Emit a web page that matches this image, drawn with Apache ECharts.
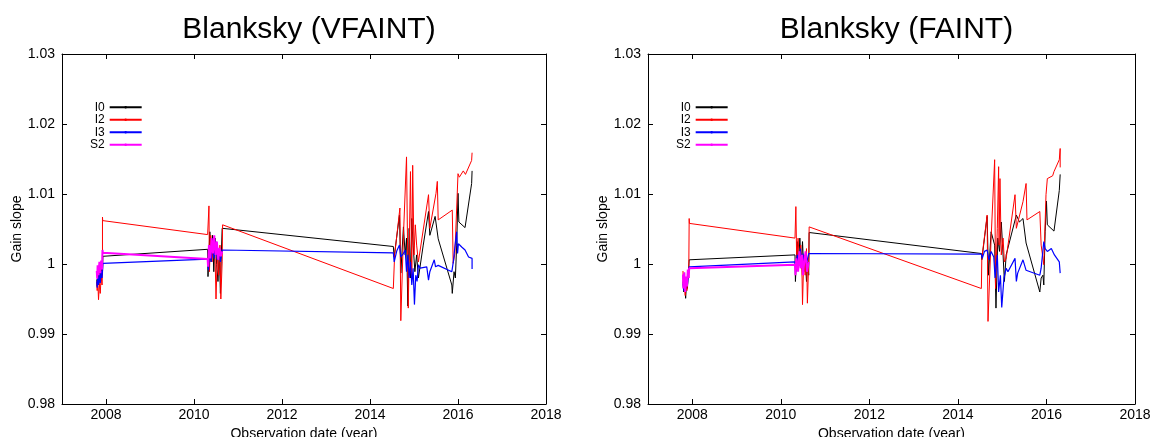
<!DOCTYPE html>
<html>
<head>
<meta charset="utf-8">
<script src="https://cdn.jsdelivr.net/npm/echarts@6/dist/echarts.min.js"></script>
<style>
  html, body { margin: 0; padding: 0; background: #fff; }
  #chart { width: 1155px; height: 437px; }
</style>
</head>
<body>
<div id="chart"></div>
<script>
// Gain slope per chip vs observation date, [year, slope]
const chipNames = ['I0', 'I2', 'I3', 'S2'];
const panelTitles = ['Blanksky (VFAINT)', 'Blanksky (FAINT)'];
const yearTicks = [2008, 2010, 2012, 2014, 2016, 2018];
const slopeTicks = [0.98, 0.99, 1.00, 1.01, 1.02, 1.03];

const vfaintI0 = [
  [2007.79,0.9978],[2007.80,0.9968],[2007.82,0.9985],[2007.84,0.9972],[2007.86,0.9990],[2007.88,0.9976],[2007.90,0.9995],[2007.92,0.9984],[2007.93,1.0011],
  [2010.31,1.0021],[2010.318,0.9982],[2010.36,1.0046],[2010.39,1.0003],[2010.42,1.0041],[2010.45,0.9989],[2010.48,1.0037],[2010.515,0.9999],[2010.545,0.9975],[2010.575,1.0018],[2010.60,0.9958],[2010.62,1.0013],[2010.64,1.0051],
  [2014.53,1.0025],[2014.55,1.0010],[2014.67,1.0070],[2014.70,0.9987],[2014.76,1.0053],[2014.80,1.0013],[2014.83,1.0037],[2014.86,0.9940],[2014.89,1.0051],[2014.92,0.9980],[2014.95,1.0065],[2014.98,1.0027],[2015.02,0.9989],[2015.06,1.0013],[2015.10,0.9980],[2015.21,1.0027],[2015.33,1.0075],[2015.36,1.0041],[2015.48,1.0068],[2015.55,1.0036],[2015.86,0.9970],[2015.87,0.9958],[2015.91,0.9989],[2015.94,0.9980],[2015.97,1.0027],[2016.00,1.0101],[2016.02,1.0060],[2016.16,1.0052],[2016.31,1.0115],[2016.32,1.0133]
];
const vfaintI2 = [
  [2007.79,0.9975],[2007.80,0.9962],[2007.81,0.9980],[2007.83,0.9949],[2007.85,0.9972],[2007.87,0.9958],[2007.89,0.9984],[2007.91,0.9970],[2007.92,0.9990],[2007.92,1.0067],[2007.925,1.0062],
  [2010.31,1.0042],[2010.34,1.0083],[2010.35,0.9989],[2010.38,1.0041],[2010.41,1.0003],[2010.44,1.0032],[2010.48,1.0008],[2010.50,0.9950],[2010.53,1.0013],[2010.56,0.9984],[2010.59,1.0027],[2010.61,0.9950],[2010.64,1.0003],[2010.65,1.0056],
  [2014.53,0.9965],[2014.56,1.0013],[2014.68,1.0080],[2014.70,0.9919],[2014.76,1.0041],[2014.83,1.0153],[2014.87,0.9937],[2014.92,1.0132],[2014.95,0.9980],[2014.97,1.0141],[2015.00,1.0013],[2015.03,1.0056],[2015.06,1.0027],[2015.10,1.0003],[2015.33,1.0099],[2015.36,1.0051],[2015.50,1.0101],[2015.53,1.0118],[2015.55,1.0063],[2015.87,1.0077],[2015.89,1.0001],[2015.93,1.0015],[2016.00,1.0129],[2016.03,1.0124],[2016.12,1.0133],[2016.17,1.0128],[2016.31,1.0148],[2016.32,1.0159]
];
const vfaintI3 = [
  [2007.79,0.9975],[2007.80,0.9966],[2007.81,0.9982],[2007.83,0.9970],[2007.85,0.9986],[2007.87,0.9973],[2007.89,0.9990],[2007.91,0.9980],[2007.93,1.0001],
  [2010.31,1.0007],[2010.33,0.9991],[2010.36,1.0022],[2010.39,1.0003],[2010.42,1.0027],[2010.46,1.0008],[2010.50,1.0032],[2010.53,1.0006],[2010.57,1.0018],[2010.60,1.0003],[2010.64,1.0020],
  [2014.53,1.0016],[2014.55,1.0003],[2014.61,1.0019],[2014.67,1.0027],[2014.70,1.0010],[2014.76,1.0015],[2014.80,1.0020],[2014.83,0.9989],[2014.86,1.0013],[2014.89,0.9980],[2014.92,1.0003],[2014.95,0.9970],[2014.98,0.9994],[2015.01,0.9942],[2015.04,0.9984],[2015.07,0.9975],[2015.10,0.9999],[2015.14,0.9994],[2015.29,0.9996],[2015.33,0.9977],[2015.36,0.9989],[2015.46,1.0006],[2015.49,0.9996],[2015.55,0.9998],[2015.86,0.9989],[2015.90,1.0006],[2015.93,1.0025],[2015.97,1.0046],[2015.99,1.0015],[2016.01,1.0029],[2016.09,1.0024],[2016.16,1.0020],[2016.24,1.0010],[2016.32,1.0008],[2016.32,0.9993]
];
const vfaintS2 = [
  [2007.79,0.9990],[2007.80,0.9979],[2007.81,0.9998],[2007.83,0.9984],[2007.85,1.0003],[2007.87,0.9987],[2007.89,1.0005],[2007.91,0.9992],[2007.92,1.0020],[2007.93,1.0016],
  [2010.31,1.0007],[2010.32,0.9996],[2010.34,1.0027],[2010.37,1.0008],[2010.40,1.0037],[2010.43,1.0015],[2010.46,1.0041],[2010.49,1.0013],[2010.52,1.0032],[2010.55,1.0006],[2010.58,1.0023],[2010.61,1.0011],[2010.64,1.0018]
];

const faintI0 = [
  [2007.79,0.9975],[2007.81,0.9960],[2007.83,0.9978],[2007.85,0.9951],[2007.87,0.9972],[2007.89,0.9965],[2007.91,0.9985],[2007.93,1.0006],
  [2010.32,1.0013],[2010.33,0.9975],[2010.37,1.0032],[2010.40,0.9997],[2010.43,1.0037],[2010.46,0.9994],[2010.49,1.0032],[2010.52,0.9989],[2010.55,1.0013],[2010.58,0.9975],[2010.61,1.0003],[2010.63,0.9984],[2010.64,1.0045],
  [2014.53,1.0015],[2014.54,1.0006],[2014.66,1.0068],[2014.69,0.9984],[2014.75,1.0046],[2014.83,1.0027],[2014.86,0.9937],[2014.90,1.0037],[2014.94,1.0018],[2014.98,1.0060],[2015.02,1.0013],[2015.05,0.9975],[2015.09,1.0013],[2015.32,1.0070],[2015.39,1.0060],[2015.47,1.0065],[2015.54,1.0030],[2015.85,0.9960],[2015.88,0.9980],[2015.92,0.9984],[2015.94,0.9970],[2015.97,1.0046],[2016.00,1.0090],[2016.02,1.0056],[2016.17,1.0047],[2016.29,1.0105],[2016.31,1.0128]
];
const faintI2 = [
  [2007.79,0.9990],[2007.80,0.9965],[2007.82,0.9985],[2007.84,0.9955],[2007.86,0.9978],[2007.88,0.9962],[2007.90,0.9990],[2007.92,0.9980],[2007.93,1.0065],[2007.935,1.0058],
  [2010.32,1.0037],[2010.34,1.0082],[2010.36,0.9999],[2010.39,1.0037],[2010.42,1.0003],[2010.45,1.0027],[2010.48,0.9980],[2010.49,0.9942],[2010.52,1.0013],[2010.55,0.9984],[2010.58,1.0022],[2010.60,0.9944],[2010.63,1.0003],[2010.64,1.0053],
  [2014.53,0.9965],[2014.54,1.0008],[2014.66,1.0070],[2014.68,0.9918],[2014.75,1.0037],[2014.83,1.0149],[2014.85,0.9965],[2014.89,1.0051],[2014.92,1.0139],[2014.93,1.0027],[2014.95,1.0122],[2014.98,1.0013],[2015.02,1.0037],[2015.05,1.0003],[2015.09,1.0008],[2015.29,1.0099],[2015.32,1.0051],[2015.47,1.0089],[2015.54,1.0115],[2015.56,1.0063],[2015.85,1.0075],[2015.88,1.0027],[2015.94,0.9999],[2015.99,1.0099],[2016.02,1.0122],[2016.14,1.0126],[2016.17,1.0132],[2016.29,1.0149],[2016.31,1.0165],[2016.31,1.0138]
];
const faintI3 = [
  [2007.79,0.9972],[2007.81,0.9962],[2007.83,0.9978],[2007.85,0.9965],[2007.87,0.9980],[2007.89,0.9970],[2007.91,0.9985],[2007.93,0.9996],
  [2010.32,1.0003],[2010.34,0.9989],[2010.37,1.0013],[2010.41,0.9999],[2010.44,1.0022],[2010.47,1.0003],[2010.50,1.0015],[2010.53,0.9999],[2010.56,1.0013],[2010.59,1.0003],[2010.63,1.0015],
  [2014.53,1.0014],[2014.55,1.0008],[2014.60,1.0018],[2014.66,1.0020],[2014.70,1.0006],[2014.75,1.0018],[2014.81,1.0010],[2014.84,0.9980],[2014.89,1.0013],[2014.92,0.9960],[2014.96,0.9984],[2014.99,0.9938],[2015.04,0.9980],[2015.09,0.9994],[2015.13,0.9989],[2015.29,1.0008],[2015.32,0.9975],[2015.35,0.9987],[2015.47,1.0006],[2015.54,0.9991],[2015.85,0.9984],[2015.88,0.9994],[2015.94,1.0032],[2015.97,1.0022],[2016.02,1.0018],[2016.11,1.0022],[2016.18,1.0013],[2016.29,1.0003],[2016.31,0.9987]
];
const faintS2 = [
  [2007.79,0.9985],[2007.80,0.9965],[2007.82,0.9988],[2007.84,0.9960],[2007.86,0.9982],[2007.88,0.9968],[2007.90,0.9992],[2007.92,0.9980],[2007.93,0.9994],
  [2010.32,0.9999],[2010.33,0.9984],[2010.35,1.0008],[2010.39,0.9989],[2010.42,1.0018],[2010.45,0.9994],[2010.48,1.0013],[2010.50,0.9984],[2010.53,1.0003],[2010.56,1.0018],[2010.59,0.9989],[2010.63,1.0003]
];

const panelData = [
  [vfaintI0, vfaintI2, vfaintI3, vfaintS2],
  [faintI0, faintI2, faintI3, faintS2]
];

const FONT = 'Liberation Sans';
const chipStyles = [
  { color: '#000000', width: 1 },
  { color: '#ff0000', width: 1 },
  { color: '#0000ff', width: 1.2 },
  { color: '#ff00ff', width: 2 }
];
const grids = [
  { left: 62, top: 54, width: 484, height: 350, outerBoundsMode: 'none', containLabel: false },
  { left: 648, top: 54, width: 487, height: 350, outerBoundsMode: 'none', containLabel: false }
];

const axisLineStyle = { show: true, lineStyle: { color: '#000', width: 1 } };
const tickStyle = { show: true, inside: true, length: 5, lineStyle: { color: '#000' } };

const xAxes = [], yAxes = [], series = [], titles = [], legends = [];
grids.forEach((g, gi) => {
  // bottom axis with labels, top axis mirrors the ticks
  xAxes.push({
    type: 'value', gridIndex: gi, min: 2007, max: 2018, position: 'bottom',
    name: 'Observation date (year)', nameLocation: 'middle', nameGap: 21,
    nameTextStyle: { fontFamily: FONT, fontSize: 14, color: '#000' },
    axisLine: axisLineStyle,
    axisTick: Object.assign({ customValues: yearTicks }, tickStyle),
    axisLabel: {
      customValues: yearTicks, fontFamily: FONT, fontSize: 14, color: '#000', margin: 4,
      formatter: v => String(Math.round(v))
    },
    splitLine: { show: false }
  });
  xAxes.push({
    type: 'value', gridIndex: gi, min: 2007, max: 2018, position: 'top',
    axisLine: axisLineStyle,
    axisTick: Object.assign({ customValues: yearTicks }, tickStyle),
    axisLabel: { show: false, customValues: yearTicks },
    splitLine: { show: false }
  });
  yAxes.push({
    type: 'value', gridIndex: gi, min: 0.98, max: 1.03, position: 'left',
    name: 'Gain slope', nameLocation: 'middle', nameGap: 38, nameRotate: 90,
    nameTextStyle: { fontFamily: FONT, fontSize: 14, color: '#000' },
    axisLine: axisLineStyle,
    axisTick: Object.assign({ customValues: slopeTicks }, tickStyle),
    axisLabel: {
      customValues: slopeTicks, fontFamily: FONT, fontSize: 14, color: '#000', margin: 7,
      formatter: v => String(+v.toFixed(2))
    },
    splitLine: { show: false }
  });
  yAxes.push({
    type: 'value', gridIndex: gi, min: 0.98, max: 1.03, position: 'right',
    axisLine: axisLineStyle,
    axisTick: Object.assign({ customValues: slopeTicks }, tickStyle),
    axisLabel: { show: false, customValues: slopeTicks },
    splitLine: { show: false }
  });
  titles.push({
    text: panelTitles[gi], left: g.left + g.width / 2, top: 10, textAlign: 'center',
    textStyle: { fontFamily: FONT, fontSize: 30, fontWeight: 'normal', color: '#000' }
  });
  legends.push({
    data: chipNames, orient: 'vertical', align: 'right',
    left: g.left + 28, top: 101, padding: 0, itemGap: 0,
    itemWidth: 32, itemHeight: 3, selectedMode: false,
    textStyle: { fontFamily: FONT, fontSize: 12, lineHeight: 12.5, color: '#000' }
  });
  panelData[gi].forEach((pts, si) => {
    series.push({
      type: 'line', name: chipNames[si],
      xAxisIndex: gi * 2, yAxisIndex: gi * 2,
      data: pts, symbol: 'none', z: 2 + si,
      lineStyle: { color: chipStyles[si].color, width: chipStyles[si].width },
      itemStyle: { color: chipStyles[si].color },
      emphasis: { disabled: true }
    });
  });
});

const chart = echarts.init(document.getElementById('chart'), null, { renderer: 'canvas' });
chart.setOption({
  animation: false,
  backgroundColor: '#fff',
  title: titles,
  legend: legends,
  grid: grids,
  xAxis: xAxes,
  yAxis: yAxes,
  series: series
});
</script>
</body>
</html>
